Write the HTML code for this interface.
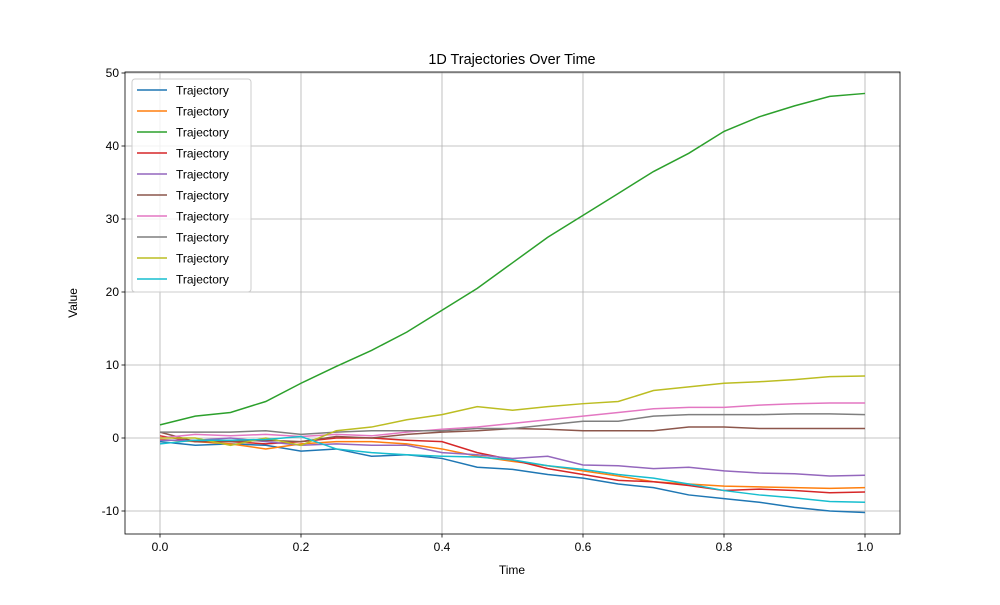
<!DOCTYPE html>
<html><head><meta charset="utf-8"><style>
body{margin:0;background:#fff}
svg{font-family:"Liberation Sans","DejaVu Sans",sans-serif}
</style></head><body>
<svg id="c" width="1000" height="600"></svg>
<script>
const times=[0,.05,.1,.15,.2,.25,.3,.35,.4,.45,.5,.55,.6,.65,.7,.75,.8,.85,.9,.95,1];
const s0=[-0.5,-1,-0.8,-1,-1.8,-1.5,-2.5,-2.3,-2.8,-4,-4.3,-5,-5.5,-6.3,-6.8,-7.8,-8.3,-8.8,-9.5,-10,-10.2];
const s1=[-0.2,-0.5,-0.8,-1.5,-0.8,-0.5,-0.5,-0.8,-1.5,-2.5,-3.2,-3.8,-4.5,-5.2,-6,-6.3,-6.6,-6.7,-6.8,-6.9,-6.8];
const s2=[1.8,3,3.5,5,7.5,9.8,12,14.5,17.5,20.5,24,27.5,30.5,33.5,36.5,39,42,44,45.5,46.8,47.2];
const s3=[0.3,-0.5,-0.5,-0.8,-0.5,0,0,-0.3,-0.5,-2,-3,-4.2,-5,-5.8,-6,-6.5,-7.2,-7,-7.2,-7.5,-7.4];
const s4=[-0.3,-0.3,0,-0.5,-1,-0.8,-1,-1,-2,-2.3,-2.8,-2.5,-3.7,-3.8,-4.2,-4,-4.5,-4.8,-4.9,-5.2,-5.1];
const s5=[0.8,-0.5,-0.5,-0.3,-0.5,0.2,0,0.5,0.8,1,1.3,1.2,1,1,1,1.5,1.5,1.3,1.3,1.3,1.3];
const s6=[0,0.5,0.3,0.5,0.2,0.5,0.3,0.8,1.2,1.5,2,2.5,3,3.5,4,4.2,4.2,4.5,4.7,4.8,4.8];
const s7=[0.8,0.8,0.8,1,0.5,0.8,1,1,1,1.3,1.3,1.8,2.3,2.3,3,3.2,3.2,3.2,3.3,3.3,3.2];
const s8=[0,0,-1,0,-1,1,1.5,2.5,3.2,4.3,3.8,4.3,4.7,5,6.5,7,7.5,7.7,8,8.4,8.5];
const s9=[-0.8,-0.3,-0.3,-0.2,0.2,-1.5,-2,-2.3,-2.5,-2.6,-3,-3.8,-4.3,-5,-5.5,-6.3,-7.2,-7.8,-8.2,-8.7,-8.8];
const series=[s0,s1,s2,s3,s4,s5,s6,s7,s8,s9];
const colors=["#1f77b4","#ff7f0e","#2ca02c","#d62728","#9467bd","#8c564b","#e377c2","#7f7f7f","#bcbd22","#17becf"];
const xTicks=[0,0.2,0.4,0.6,0.8,1.0];
const yTicks=[-10,0,10,20,30,40,50];
const X=v=>160+v*705, Y=v=>438-v*7.3;
const svg=document.getElementById('c');const NS="http://www.w3.org/2000/svg";
function mk(t,a,p){const e=document.createElementNS(NS,t);for(const k in a)e.setAttribute(k,a[k]);(p||svg).appendChild(e);return e;}
const L=125,R=900,T=72,B=534;
xTicks.forEach(v=>{const x=X(v);
const g=mk('line',{x1:x,x2:x,y1:T,y2:B,stroke:'#b0b0b0','stroke-width':0.8});

mk('line',{x1:x,x2:x,y1:B,y2:B+3.5,stroke:'#000','stroke-width':0.8});
const t=mk('text',{x:x,y:B+17,'text-anchor':'middle','font-size':12});t.textContent=v.toFixed(1);
});
yTicks.forEach(v=>{const y=Y(v);
const g=mk('line',{x1:L,x2:R,y1:y,y2:y,stroke:'#b0b0b0','stroke-width':0.8});

mk('line',{x1:L-3.5,x2:L,y1:y,y2:y,stroke:'#000','stroke-width':0.8});
const t=mk('text',{x:L-6,y:y+4,'text-anchor':'end','font-size':12});t.textContent=v;
});
series.forEach((s,i)=>{const p=mk('polyline',{points:s.map((v,j)=>X(times[j])+','+Y(v)).join(' '),fill:'none',stroke:colors[i],'stroke-width':1.5});
});
const fr=mk('rect',{x:L,y:T,width:R-L,height:B-T,fill:'none',stroke:'#000','stroke-width':0.8});

const lg=mk('rect',{x:132,y:79,width:119,height:213,fill:'#fff','fill-opacity':0.8,stroke:'#ccc',rx:3});

colors.forEach((c,i)=>{const y=90+i*21;
mk('line',{x1:137,x2:167,y1:y,y2:y,stroke:c,'stroke-width':1.5});
const t=mk('text',{x:176,y:y+4.5,'font-size':12});t.textContent='Trajectory';
});
let t=mk('text',{x:512,y:64,'text-anchor':'middle','font-size':14.4});t.textContent='1D Trajectories Over Time';

t=mk('text',{x:512,y:574,'text-anchor':'middle','font-size':12});t.textContent='Time';

t=mk('text',{x:77,y:303,'text-anchor':'middle','font-size':12,transform:'rotate(-90 77 303)'});t.textContent='Value';

</script>
</body></html>
